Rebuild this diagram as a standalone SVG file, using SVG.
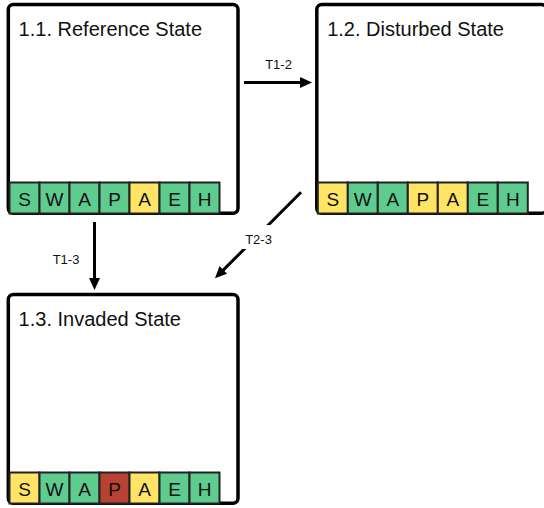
<svg xmlns="http://www.w3.org/2000/svg" width="544" height="508" viewBox="0 0 544 508">
<defs>
<style>
.box{fill:#fff;stroke:#000;stroke-width:3.5}
.title{font-family:"Liberation Sans",Arial,sans-serif;font-size:20px;fill:#111}
.cell{stroke:#222;stroke-width:2}
.g{fill:#5ecb8f}
.y{fill:#ffe466}
.r{fill:#b74132}
.ct{font-family:"Liberation Sans",Arial,sans-serif;font-size:19px;fill:#111;text-anchor:middle}
.conn{stroke:#000;stroke-width:3;fill:none}
.lbl{font-family:"Liberation Sans",Arial,sans-serif;font-size:13px;fill:#111;text-anchor:middle}
</style>
<marker id="ah" markerUnits="userSpaceOnUse" markerWidth="12" markerHeight="12" refX="6" refY="6" orient="auto">
<path d="M0,0.5 L12,6 L0,11.5 z" fill="#000"/>
</marker>
</defs>
<rect width="544" height="508" fill="#fff"/>

<g id="connectors">
<g id="t12">
<line class="conn" x1="244" y1="82.5" x2="306" y2="82.5" marker-end="url(#ah)"/>
<text class="lbl" x="278.5" y="69">T1-2</text>
</g>
<g id="t13">
<line class="conn" x1="94.5" y1="222" x2="94.5" y2="284" marker-end="url(#ah)"/>
<text class="lbl" x="66" y="263.5">T1-3</text>
</g>
<g id="t23">
<line class="conn" x1="301" y1="192.3" x2="219.2" y2="274.1" marker-end="url(#ah)"/>
<rect x="240" y="225" width="36" height="24" fill="#fff"/>
<text class="lbl" x="258.5" y="243.5">T2-3</text>
</g>
</g>

<g id="n11">
<rect class="box" x="8.3" y="4.5" width="229.7" height="208.8" rx="5"/>
<text class="title" x="18.6" y="35.5">1.1. Reference State</text>
<g transform="translate(9.5,182.5)">
<rect class="cell g" x="0" y="0" width="30" height="31"/>
<rect class="cell g" x="30" y="0" width="30" height="31"/>
<rect class="cell g" x="60" y="0" width="30" height="31"/>
<rect class="cell g" x="90" y="0" width="30" height="31"/>
<rect class="cell y" x="120" y="0" width="30" height="31"/>
<rect class="cell g" x="150" y="0" width="30" height="31"/>
<rect class="cell g" x="180" y="0" width="30" height="31"/>
<text class="ct" x="15" y="23.5">S</text>
<text class="ct" x="45" y="23.5">W</text>
<text class="ct" x="75" y="23.5">A</text>
<text class="ct" x="105" y="23.5">P</text>
<text class="ct" x="135" y="23.5">A</text>
<text class="ct" x="165" y="23.5">E</text>
<text class="ct" x="195" y="23.5">H</text>
</g>
</g>

<g id="n12">
<rect class="box" x="316.8" y="4.5" width="229.7" height="208.8" rx="5"/>
<text class="title" x="327.2" y="35.5">1.2. Disturbed State</text>
<g transform="translate(317.8,182.5)">
<rect class="cell y" x="0" y="0" width="30" height="31"/>
<rect class="cell g" x="30" y="0" width="30" height="31"/>
<rect class="cell g" x="60" y="0" width="30" height="31"/>
<rect class="cell y" x="90" y="0" width="30" height="31"/>
<rect class="cell y" x="120" y="0" width="30" height="31"/>
<rect class="cell g" x="150" y="0" width="30" height="31"/>
<rect class="cell g" x="180" y="0" width="30" height="31"/>
<text class="ct" x="15" y="23.5">S</text>
<text class="ct" x="45" y="23.5">W</text>
<text class="ct" x="75" y="23.5">A</text>
<text class="ct" x="105" y="23.5">P</text>
<text class="ct" x="135" y="23.5">A</text>
<text class="ct" x="165" y="23.5">E</text>
<text class="ct" x="195" y="23.5">H</text>
</g>
</g>

<g id="n13">
<rect class="box" x="8.3" y="294.5" width="229.7" height="208.8" rx="5"/>
<text class="title" x="18.6" y="325.5">1.3. Invaded State</text>
<g transform="translate(9.5,472.5)">
<rect class="cell y" x="0" y="0" width="30" height="31"/>
<rect class="cell g" x="30" y="0" width="30" height="31"/>
<rect class="cell g" x="60" y="0" width="30" height="31"/>
<rect class="cell r" x="90" y="0" width="30" height="31"/>
<rect class="cell y" x="120" y="0" width="30" height="31"/>
<rect class="cell g" x="150" y="0" width="30" height="31"/>
<rect class="cell g" x="180" y="0" width="30" height="31"/>
<text class="ct" x="15" y="23.5">S</text>
<text class="ct" x="45" y="23.5">W</text>
<text class="ct" x="75" y="23.5">A</text>
<text class="ct" x="105" y="23.5">P</text>
<text class="ct" x="135" y="23.5">A</text>
<text class="ct" x="165" y="23.5">E</text>
<text class="ct" x="195" y="23.5">H</text>
</g>
</g>
</svg>
